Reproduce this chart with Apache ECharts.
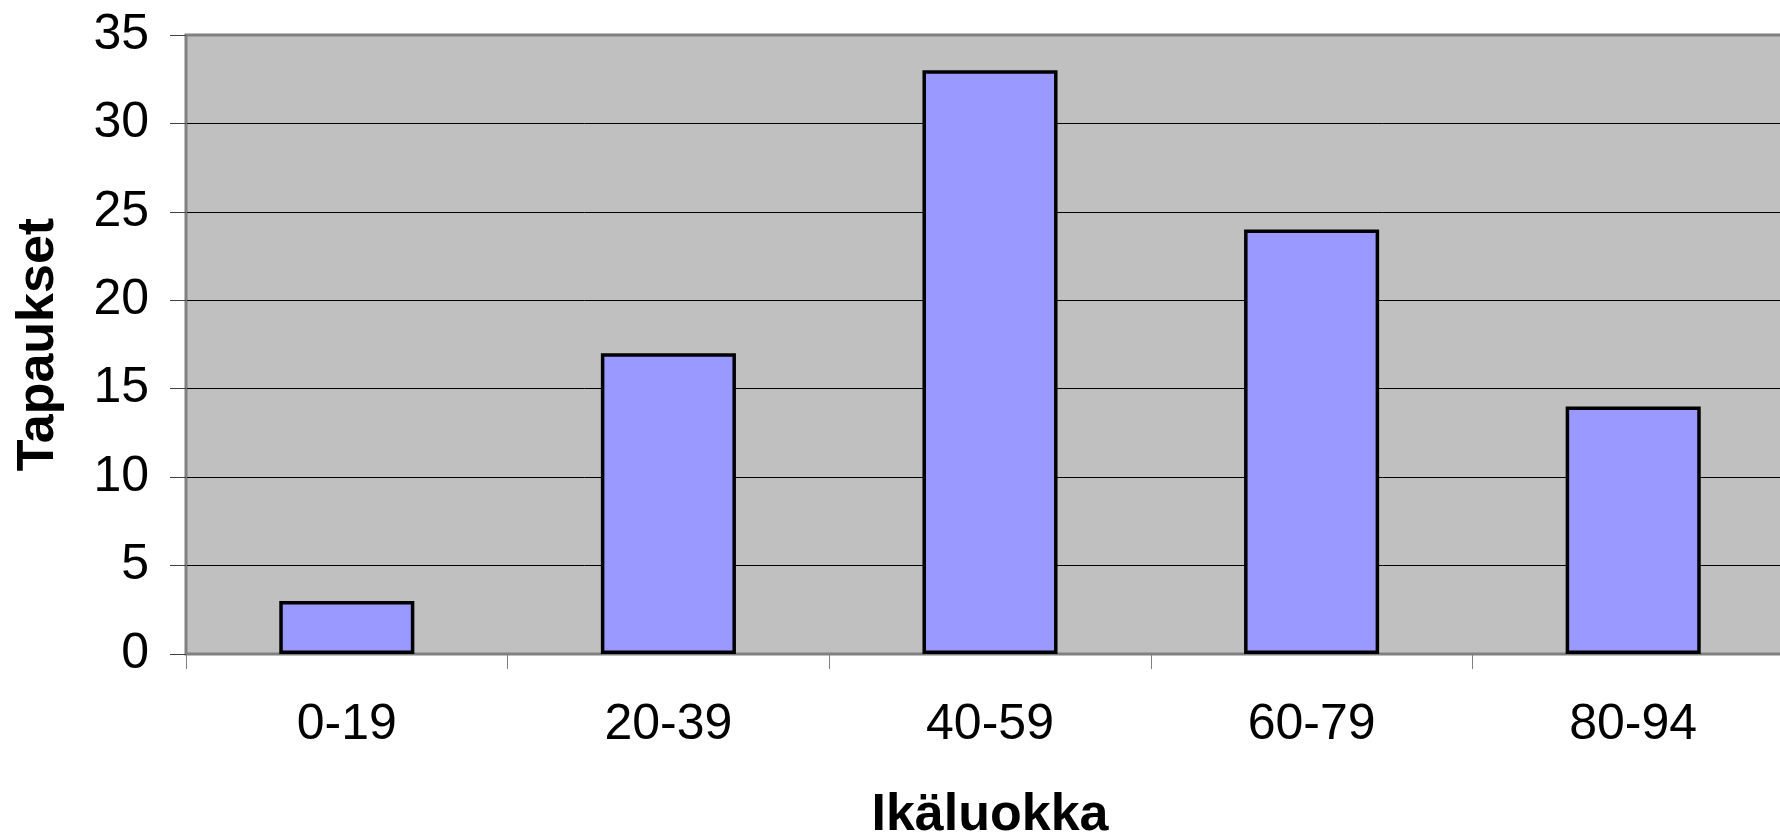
<!DOCTYPE html>
<html>
<head>
<meta charset="utf-8">
<script src="https://cdn.jsdelivr.net/npm/echarts@6/dist/echarts.min.js"></script>
<style>
  html, body { margin: 0; padding: 0; background: #fff; overflow: hidden; }
  #chart { width: 1780px; height: 837px; }
</style>
</head>
<body>
<div id="chart"></div>
<script>
// Age classes and case counts
const ageClasses = ['0-19', '20-39', '40-59', '60-79', '80-94'];
const caseCounts = [3, 17, 33, 24, 14];
const yTicks = { min: 0, max: 35, step: 5 };

const chart = echarts.init(document.getElementById('chart'), null, { renderer: 'canvas' });
const font = '"Liberation Sans", Arial, sans-serif';

// gridline colours: the 0 and 35 lines blend with the frame
const nLines = (yTicks.max - yTicks.min) / yTicks.step + 1;
const lineColors = [];
for (let i = 0; i < nLines; i++) {
  lineColors.push(i === 0 || i === nLines - 1 ? '#808080' : '#000000');
}

// the plot runs slightly past the right edge, so its right border stays hidden
chart.setOption({
  animation: false,
  backgroundColor: '#ffffff',
  grid: {
    left: 186, top: 35, width: 1608, height: 619,
    outerBoundsMode: 'none',
    containLabel: false,
    show: true,
    backgroundColor: '#C0C0C0',
    borderColor: '#808080',
    borderWidth: 3
  },
  xAxis: {
    type: 'category',
    data: ageClasses,
    name: 'Ikäluokka',
    nameLocation: 'middle',
    nameGap: 136,
    nameTextStyle: { fontFamily: font, fontSize: 52, fontWeight: 'bold', color: '#000' },
    axisLine: { show: true, lineStyle: { color: '#808080', width: 2 } },
    axisTick: { show: true, length: 15, lineStyle: { color: '#808080', width: 1 } },
    axisLabel: { fontFamily: font, fontSize: 50, color: '#000', margin: 46 },
    splitLine: { show: false }
  },
  yAxis: {
    type: 'value',
    min: yTicks.min,
    max: yTicks.max,
    interval: yTicks.step,
    name: 'Tapaukset',
    nameLocation: 'middle',
    nameGap: 121,
    nameRotate: 90,
    nameTextStyle: { fontFamily: font, fontSize: 52, fontWeight: 'bold', color: '#000' },
    axisLine: { show: true, lineStyle: { color: '#808080', width: 2 } },
    axisTick: { show: true, length: 16, lineStyle: { color: '#404040', width: 1 } },
    axisLabel: { fontFamily: font, fontSize: 50, color: '#000', margin: 37 },
    splitLine: { show: true, lineStyle: { color: lineColors, width: 1 } }
  },
  series: [{
    type: 'bar',
    data: caseCounts,
    barWidth: '42%',
    itemStyle: { color: '#9999FF', borderColor: '#000000', borderWidth: 3.5 }
  }]
});
</script>
</body>
</html>
